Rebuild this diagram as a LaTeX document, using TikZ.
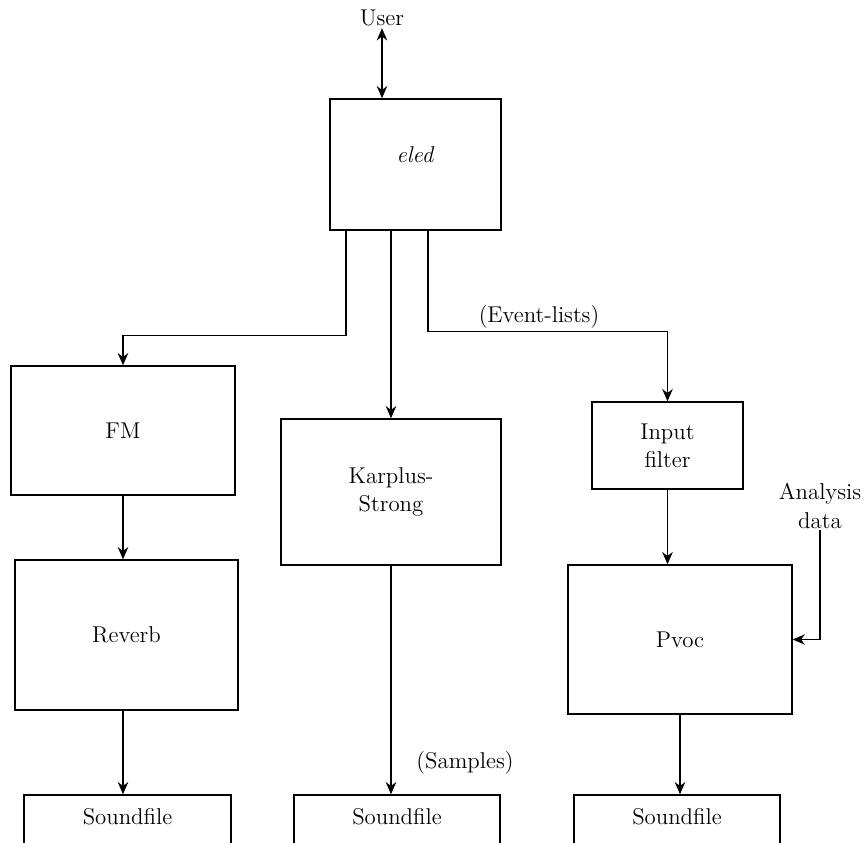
\documentclass[tikz,border=0pt]{standalone}
\usetikzlibrary{arrows.meta}

\newlength{\du}
\setlength{\du}{0.02cm}

\tikzset{
  box/.style={draw, line width=0.8pt, inner sep=0pt, align=center, font=\fontsize{13}{16}\selectfont},
  lbl/.style={inner sep=1pt, align=center, font=\fontsize{13}{16}\selectfont},
  flow/.style={line width=0.8pt, >={Stealth[length=7pt,width=6pt]}, ->},
}

\begin{document}
\begin{tikzpicture}[x=1\du,y=-1\du]
\clip (0,0) rectangle (867,843);
% setfont left to latex
\node[lbl] (user) at (382,18){User};
\node[box, minimum width=171\du, minimum height=131\du] (eled) at (415.5,164.5){\raisebox{20\du}{\textit{eled}}};
\node[box, minimum width=224\du, minimum height=129\du] (fm) at (123,430.5){FM};
\node[box, minimum width=223\du, minimum height=150\du] (reverb) at (126.5,635){Reverb};
\node[box, minimum width=220\du, minimum height=146\du] (karplus) at (391,492){Karplus-\\Strong};
\node[box, minimum width=151\du, minimum height=87\du] (infilter) at (667.5,445.5){Input\\filter};
\node[box, minimum width=224\du, minimum height=149\du] (pvoc) at (680,639.5){Pvoc};
% soundfile boxes run off the bottom edge
\node[box, minimum width=207\du, minimum height=60\du] (sfa) at (127.5,825){\raisebox{18\du}{Soundfile}};
\node[box, minimum width=206\du, minimum height=60\du] (sfb) at (397,825){\raisebox{18\du}{Soundfile}};
\node[box, minimum width=206\du, minimum height=60\du] (sfc) at (677,825){\raisebox{18\du}{Soundfile}};
\node[lbl] (events) at (539,317){(Event-lists)};
\node[lbl] (samples) at (465,763){(Samples)};
\node[lbl] (analysis) at (820,506){Analysis\\data};
% connectors
\draw[flow, <->] (user.south) -- (user.south |- eled.north);
\draw[flow] ([xshift=-69.5\du]eled.south) |- ([yshift=30\du]fm.north) -- (fm.north);
\draw[flow] (eled.south -| karplus.north) -- (karplus.north);
\draw[flow] ([xshift=12.5\du]eled.south) |- ([yshift=70\du]infilter.north) -- (infilter.north);
\draw[flow] (fm.south) -- (fm.south |- reverb.north);
\draw[flow] (reverb.south -| fm.south) -- (fm.south |- sfa.north);
\draw[flow] (karplus.south) -- (karplus.south |- sfb.north);
\draw[flow] (infilter.south) -- (infilter.south |- pvoc.north);
\draw[flow] (pvoc.south) -- (pvoc.south |- sfc.north);
\draw[flow] (analysis.south) |- (pvoc.east);
\end{tikzpicture}
\end{document}
